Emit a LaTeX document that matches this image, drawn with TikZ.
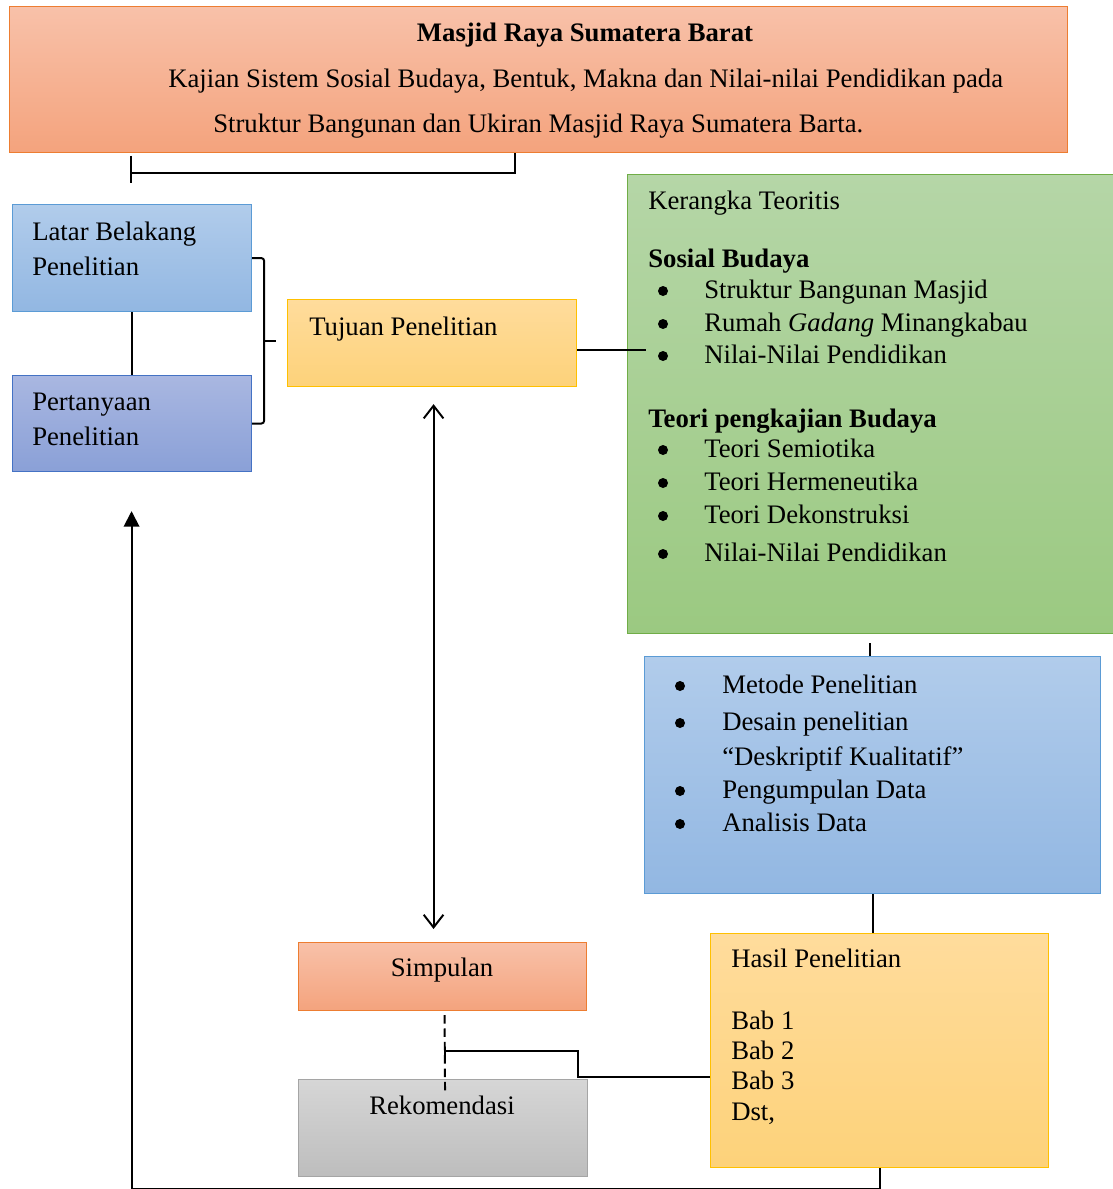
\documentclass[tikz,border=0pt]{standalone}
\usepackage{fontspec}
\setmainfont{Liberation Serif}
\usetikzlibrary{arrows.meta,calc}
\newcommand{\pix}[1]{#1*0.025cm}
\definecolor{orTop}{HTML}{F8C1A9}
\definecolor{orBot}{HTML}{F4A37D}
\definecolor{orLine}{HTML}{ED7D31}
\definecolor{blTop}{HTML}{B1CCEB}
\definecolor{blBot}{HTML}{92B7E2}
\definecolor{blLine}{HTML}{5B9BD5}
\definecolor{nvTop}{HTML}{A9B7E1}
\definecolor{nvBot}{HTML}{8AA0D7}
\definecolor{nvLine}{HTML}{4472C4}
\definecolor{ylTop}{HTML}{FFDC9C}
\definecolor{ylBot}{HTML}{FDD27A}
\definecolor{ylLine}{HTML}{FFC000}
\definecolor{grTop}{HTML}{B5D6A7}
\definecolor{grBot}{HTML}{9BC981}
\definecolor{grLine}{HTML}{70AD47}
\definecolor{gyTop}{HTML}{D6D6D6}
\definecolor{gyBot}{HTML}{BDBDBD}
\definecolor{gyLine}{HTML}{A5A5A5}
\tikzset{
  box/.style = {draw, line width=0.8pt, anchor=north west, inner sep=0pt},
  oranye/.style = {box, top color=orTop, bottom color=orBot, draw=orLine},
  biru/.style = {box, top color=blTop, bottom color=blBot, draw=blLine},
  nila/.style = {box, top color=nvTop, bottom color=nvBot, draw=nvLine},
  kuning/.style = {box, top color=ylTop, bottom color=ylBot, draw=ylLine},
  hijau/.style = {box, top color=grTop, bottom color=grBot, draw=grLine},
  abu/.style = {box, top color=gyTop, bottom color=gyBot, draw=gyLine},
  txt/.style = {anchor=base west, inner sep=0pt},
  ctxt/.style = {anchor=base, inner sep=0pt},
  bul/.style = {circle, fill, inner sep=0pt, minimum size=\pix{10}},
  garis/.style = {line width=1.4pt},
}

\begin{document}
\begin{tikzpicture}[x=0.025cm, y=-0.025cm, font=\fontsize{19}{23}\selectfont]
				\useasboundingbox (0,0) rectangle (1112,1189);
				% judul
				\node (judul) [oranye, minimum width=\pix{1058}, minimum height=\pix{146}] at (9,6){};
				\node (j1) [ctxt] at (585,42){\bfseries Masjid Raya Sumatera Barat};
				\node (j2) [txt] at (168,88){Kajian Sistem Sosial Budaya, Bentuk, Makna dan Nilai-nilai Pendidikan pada};
				\node (j3) [txt] at (213,133){Struktur Bangunan dan Ukiran Masjid Raya Sumatera Barta.};
				%
				\node (latar) [biru, minimum width=\pix{239}, minimum height=\pix{107}] at (12,204){};
				\node (l1) [txt] at (32,240){Latar Belakang};
				\node (l2) [txt] at (32,275){Penelitian};
				\node (tanya) [nila, minimum width=\pix{239}, minimum height=\pix{96}] at (12,375){};
				\node (p1) [txt] at (32,410){Pertanyaan};
				\node (p2) [txt] at (32,445){Penelitian};
				\node (tujuan) [kuning, minimum width=\pix{289}, minimum height=\pix{87}] at (287,299){};
				\node (t1) [txt] at (309,335){Tujuan Penelitian};
				%
				\node (teori) [hijau, minimum width=\pix{492}, minimum height=\pix{459}] at (627,174){};
				\node (k0) [txt] at (648,209){Kerangka Teoritis};
				\node (k1) [txt] at (648,267){\bfseries Sosial Budaya};
				\node (k2) [txt] at (648,427){\bfseries Teori pengkajian Budaya};
				\foreach \y/\t in {298/Struktur Bangunan Masjid, 331/Rumah \textit{Gadang} Minangkabau, 363/Nilai-Nilai Pendidikan, 457/Teori Semiotika, 490/Teori Hermeneutika, 523/Teori Dekonstruksi, 561/Nilai-Nilai Pendidikan}{
					\node (kb\y) [bul] at (663,\y-7){};
					\node (ki\y) [txt] at (704,\y){\t};
				}
				%
				\node (metode) [biru, minimum width=\pix{456}, minimum height=\pix{237}] at (644,656){};
				\foreach \y/\t in {693/Metode Penelitian, 730/Desain penelitian, 798/Pengumpulan Data, 831/Analisis Data}{
					\node (mb\y) [bul] at (680,\y-7){};
					\node (mi\y) [txt] at (722,\y){\t};
				}
				\node (mi765) [txt] at (722,765){“Deskriptif Kualitatif”};
				%
				\node (hasil) [kuning, minimum width=\pix{338}, minimum height=\pix{234}] at (710,933){};
				\node (h0) [txt] at (731,967){Hasil Penelitian};
				\foreach \y/\t in {1029/Bab 1, 1059/Bab 2, 1089/Bab 3, 1120/{Dst,}}{
					\node (h\y) [txt] at (731,\y){\t};
				}
				%
				\node (simpulan) [oranye, minimum width=\pix{288}, minimum height=\pix{68}] at (298,942){};
				\node (s1) [ctxt] at (442,976){Simpulan};
				\node (rekom) [abu, minimum width=\pix{289}, minimum height=\pix{97}] at (298,1079){};
				\node (r1) [ctxt] at (442,1114){Rekomendasi};
				%
				% garis penghubung
				\coordinate (tik) at (131,173);
				\draw[garis] ($(judul.south west)+(506,0)$) |- (tik);
				\draw[garis] ($(tik)+(0,-17)$) -- ($(tik)+(0,10)$);
				\draw[garis] (latar.south) -- (tanya.north);
				\draw[garis, rounded corners=2pt] (latar.east) -- ++(12,0) coordinate (kr) -- (kr |- tanya.east) -- (tanya.east);
				\draw[garis] ($(kr)!0.5!(kr |- tanya.east)$) -- ++(12,0);
				\draw[garis] ($(tujuan.east)+(0,7)$) -- ++(69,0);
				\draw[garis] ($(teori.south west)+(243,9)$) coordinate (c1) -- (c1 |- metode.north);
				\draw[garis] (metode.south) -- (metode.south |- hasil.north);
				\draw[garis] ($(hasil.west)+(0,26)$) -| ($(rekom.north east)+(-10,-28)$) -| ($(simpulan.south)+(2,52)$);
				\draw[garis, dash pattern=on 6pt off 3.5pt] ($(simpulan.south)+(2,4)$) -- ($(rekom.north)+(2,16)$);
				\draw[garis, {Straight Barb[length=9pt,width=14pt]}-{Straight Barb[length=9pt,width=14pt]}] ($(tujuan.south)+(1.5,17)$) -- ($(tujuan.south |- simpulan.north)+(1.5,-13)$);
				\draw[garis, -{Triangle[length=11pt,width=11pt]}] (hasil.south) -- ++(0,21) -| ($(tanya.south)+(-0.5,39)$);
			\end{tikzpicture}
\end{document}
